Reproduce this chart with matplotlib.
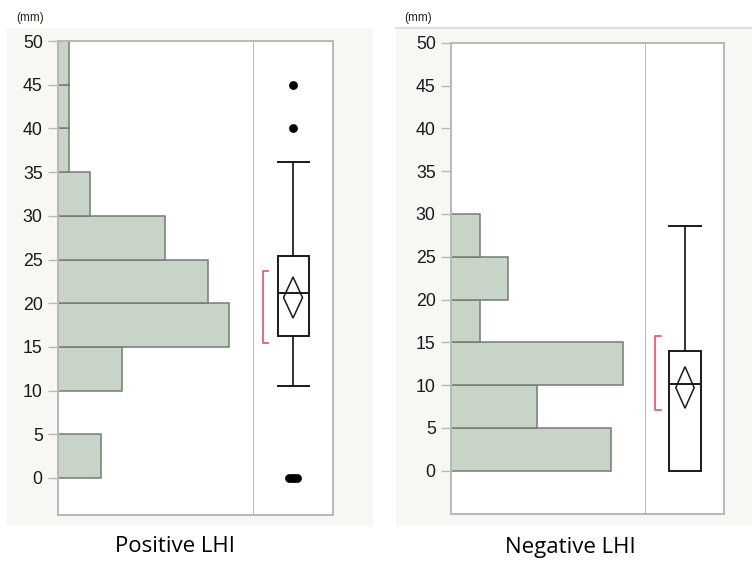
import matplotlib
matplotlib.use("Agg")
import matplotlib.pyplot as plt
from matplotlib.patches import Rectangle, Polygon
from matplotlib.lines import Line2D

# ---------------- data ----------------
y_ticks = [0, 5, 10, 15, 20, 25, 30, 35, 40, 45, 50]

pos_bins = [0, 5, 10, 15, 20, 25, 30, 35, 40, 45]
pos_counts = [4, 0, 6, 16, 14, 10, 3, 1, 1, 1]
pos_box = dict(q1=16.2, med=21.2, q3=25.4, lo=10.5, hi=36.1)
pos_mean = 20.65
pos_ci = (18.3, 23.0)
pos_short = (15.4, 23.7)
pos_outliers_y = [45, 40, 0, 0, 0, 0]
pos_outliers_x = [0.0, 0.0, -0.045, -0.015, 0.015, 0.045]

neg_bins = [0, 5, 10, 15, 20, 25]
neg_counts = [11.2, 6, 12, 2, 4, 2]
neg_box = dict(q1=0.0, med=10.1, q3=14.0, lo=0.0, hi=28.6)
neg_mean = 9.7
neg_ci = (7.3, 12.15)
neg_short = (7.1, 15.7)
neg_outliers_y = []
neg_outliers_x = []

titles = ["Positive LHI", "Negative LHI"]

W, H = 752, 564
fig = plt.figure(figsize=(W / 100, H / 100), dpi=100)
fig.patch.set_facecolor("white")

def fx(x):
    return x / W

def fy(y):
    return 1 - y / H

BG = "#f7f7f4"
FRAME = "#b8b8b8"
BAR_FC = "#c9d4c8"
BAR_EC = "#737b73"
RED = "#e8506a"

# panel backgrounds
fig.add_artist(Rectangle((fx(7), fy(525.5)), fx(373 - 7), (525.5 - 28) / H,
                         transform=fig.transFigure, facecolor=BG, edgecolor="none", zorder=0))
fig.add_artist(Rectangle((fx(396), fy(525.5)), fx(752 - 396), (525.5 - 28) / H,
                         transform=fig.transFigure, facecolor=BG, edgecolor="none", zorder=0))
fig.add_artist(Line2D([fx(396), 1], [fy(28.3), fy(28.3)], transform=fig.transFigure,
                      color="#d9d9d9", lw=1.2))


def panel(hx0, hx1, bx1, ytop, yzero, ybot, bins, counts, count_px, box, mean, ci,
          short, out_y, out_x, center, half_box, half_dia, br_x0, br_x1):
    ppu = (yzero - ytop) / 50.0
    ymin = -(ybot - yzero) / ppu
    bottom = fy(ybot)
    height = (ybot - ytop) / H
    axh = fig.add_axes([fx(hx0), bottom, fx(hx1 - hx0), height])
    axb = fig.add_axes([fx(hx1), bottom, fx(bx1 - hx1), height])
    for ax in (axh, axb):
        ax.set_facecolor("white")
        ax.set_ylim(ymin, 50)
        for s in ax.spines.values():
            s.set_color(FRAME)
            s.set_linewidth(1.4)
    # histogram
    axh.set_xlim(0, (hx1 - hx0) / count_px)
    axh.barh(bins, counts, height=5, align="edge", color=BAR_FC, edgecolor=BAR_EC,
             linewidth=1.1, zorder=2, clip_on=True)
    axh.set_xticks([])
    axh.set_yticks(y_ticks)
    axh.tick_params(axis="y", length=7.5, width=1.0, color=FRAME, pad=3.5,
                    labelsize=12.8, labelcolor="#1a1a1a")
    for lab in axh.get_yticklabels():
        lab.set_fontfamily("Liberation Sans")
    # box plot
    axb.set_xlim(0, 1)
    axb.set_xticks([])
    axb.set_yticks([])
    axb.spines["left"].set_visible(False)
    lw = 1.4
    k = "#1a1a1a"
    axb.add_patch(Rectangle((center - half_box, box["q1"]), 2 * half_box,
                            box["q3"] - box["q1"], facecolor="none", edgecolor=k,
                            lw=lw, zorder=3))
    axb.plot([center - half_box, center + half_box], [box["med"]] * 2, color=k, lw=lw, zorder=3)
    if box["hi"] > box["q3"]:
        axb.plot([center, center], [box["q3"], box["hi"]], color=k, lw=lw * 0.9)
        axb.plot([center - half_box, center + half_box], [box["hi"]] * 2, color=k, lw=lw)
    if box["lo"] < box["q1"]:
        axb.plot([center, center], [box["lo"], box["q1"]], color=k, lw=lw * 0.9)
        axb.plot([center - half_box, center + half_box], [box["lo"]] * 2, color=k, lw=lw)
    axb.add_patch(Polygon([(center, ci[1]), (center + half_dia, mean), (center, ci[0]),
                           (center - half_dia, mean)], closed=True, facecolor="none",
                          edgecolor=k, lw=1.1, zorder=4))
    axb.plot([br_x1, br_x0, br_x0, br_x1], [short[1], short[1], short[0], short[0]],
             color=RED, lw=1.2, zorder=3)
    if out_y:
        axb.plot([center + dx for dx in out_x], out_y, "o", color="black",
                 markersize=5.3, zorder=5, clip_on=False)
    return axh, axb


panel(58, 254, 333, 41, 478, 515, pos_bins, pos_counts, 10.7, pos_box, pos_mean,
      pos_ci, pos_short, pos_outliers_y, pos_outliers_x,
      center=0.494, half_box=0.196, half_dia=0.12, br_x0=0.114, br_x1=0.177)
panel(451, 646, 724, 42.7, 470.7, 514.3, neg_bins, neg_counts, 14.3, neg_box, neg_mean,
      neg_ci, neg_short, neg_outliers_y, neg_outliers_x,
      center=0.5, half_box=0.2, half_dia=0.118, br_x0=0.115, br_x1=0.188)

# texts
fig.text(fx(16), fy(17.5), "(mm)", fontsize=8.5, ha="left", va="center",
         family="Liberation Sans", color="#222222")
fig.text(fx(404), fy(18.5), "(mm)", fontsize=8.5, ha="left", va="center",
         family="Liberation Sans", color="#222222")
fig.text(fx(175), fy(547), titles[0], fontsize=16, ha="center", va="center",
         family="Open Sans", color="black")
fig.text(fx(570), fy(547), titles[1], fontsize=16, ha="center", va="center",
         family="Open Sans", color="black")

fig.savefig("out.png", dpi=100, facecolor="white")
